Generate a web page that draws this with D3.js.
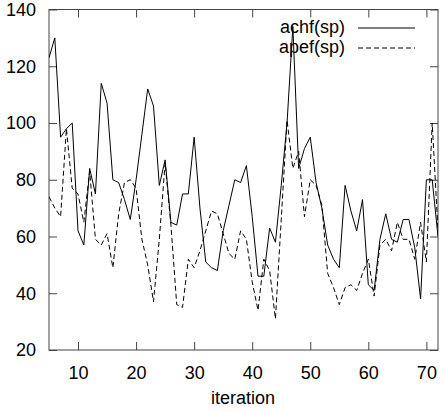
<!DOCTYPE html>
<html>
<head>
<meta charset="utf-8">
<script src="https://cdn.jsdelivr.net/npm/d3@7"></script>
<style>
  body { margin: 0; background: #fff; }
  text { font-family: "Liberation Sans", Arial, sans-serif; }
</style>
</head>
<body>
<svg id="chart"></svg>
<script>
// Data
const iterations = [5, 6, 7, 8, 9, 10, 11, 12, 13, 14, 15, 16, 17, 18, 19, 20,
  21, 22, 23, 24, 25, 26, 27, 28, 29, 30, 31, 32, 33, 34, 35, 36, 37, 38, 39, 40,
  41, 42, 43, 44, 45, 46, 47, 48, 49, 50, 51, 52, 53, 54, 55, 56, 57, 58, 59, 60,
  61, 62, 63, 64, 65, 66, 67, 68, 69, 70, 71, 72];
const achf = [123, 130, 95, 98, 100, 62, 57, 84, 75, 114, 107, 80, 79, 73, 66, 80,
  96, 112, 106, 78, 87, 65, 64, 75, 75, 95, 70, 51, 49, 48, 62, 71, 80, 79, 85, 67,
  46, 46, 63, 58, 78, 100, 134, 84, 91, 95, 79, 70, 57, 52, 49, 78, 69, 62, 73, 43,
  41, 59, 68, 59, 58, 66, 66, 56, 38, 80, 80, 60];
const apef = [74, 70, 67, 98, 77, 75, 65, 83, 59, 57, 61, 49, 68, 79, 80, 77,
  59, 50, 37, 59, 86, 64, 36, 35, 52, 49, 55, 62, 69, 68, 61, 54, 52, 62, 59, 44,
  34, 52, 48, 31, 66, 101, 84, 90, 67, 80, 78, 71, 47, 42, 36, 42, 43, 41, 47, 52,
  39, 57, 59, 55, 65, 59, 59, 52, 65, 51, 100, 62];
const xTicks = [10, 20, 30, 40, 50, 60, 70];
const yTicks = [20, 40, 60, 80, 100, 120, 140];
const seriesNames = ["achf(sp)", "apef(sp)"];

const W = 444, H = 412;
const plotLeft = 49, plotRight = 438, plotTop = 9.5, plotBottom = 350;

const svg = d3.select("#chart").attr("width", W).attr("height", H);

const x = d3.scaleLinear().domain([5, 72]).range([plotLeft, plotRight]);
const y = d3.scaleLinear().domain([20, 140]).range([plotBottom, plotTop]);

const frameColor = "#444";
const fontSize = 18;

// axes: ticks point inward on all four sides
const axB = svg.append("g").attr("transform", `translate(0,${plotBottom})`)
  .call(d3.axisBottom(x).tickValues(xTicks).tickSize(-8).tickPadding(16));
const axT = svg.append("g").attr("transform", `translate(0,${plotTop})`)
  .call(d3.axisTop(x).tickValues(xTicks).tickSize(-8).tickFormat(""));
const axL = svg.append("g").attr("transform", `translate(${plotLeft},0)`)
  .call(d3.axisLeft(y).tickValues(yTicks).tickSize(-8).tickPadding(13));
const axR = svg.append("g").attr("transform", `translate(${plotRight},0)`)
  .call(d3.axisRight(y).tickValues(yTicks).tickSize(-8).tickFormat(""));

[axB, axT, axL, axR].forEach(g => {
  g.select(".domain").remove();
  g.selectAll(".tick line").attr("stroke", frameColor);
  g.selectAll(".tick text").attr("fill", "#000")
    .style("font-size", fontSize + "px");
});

svg.append("rect")
  .attr("x", plotLeft).attr("y", plotTop)
  .attr("width", plotRight - plotLeft).attr("height", plotBottom - plotTop)
  .attr("fill", "none").attr("stroke", frameColor).attr("stroke-width", 1);

// lines, clipped to the frame
svg.append("clipPath").attr("id", "plot-clip")
  .append("rect").attr("x", plotLeft).attr("y", plotTop)
  .attr("width", plotRight - plotLeft).attr("height", plotBottom - plotTop);

const line = d3.line().x(d => x(d[0])).y(d => y(d[1]));

const plot = svg.append("g").attr("clip-path", "url(#plot-clip)");

plot.append("path")
  .datum(iterations.map((it, i) => [it, achf[i]]))
  .attr("d", line)
  .attr("fill", "none").attr("stroke", "#000").attr("stroke-width", 1);

plot.append("path")
  .datum(iterations.map((it, i) => [it, apef[i]]))
  .attr("d", line)
  .attr("fill", "none").attr("stroke", "#000").attr("stroke-width", 1)
  .attr("stroke-dasharray", "5,3");

// legend
const legend = svg.append("g");
seriesNames.forEach((name, i) => {
  const ly = 28 + i * 20;
  legend.append("text")
    .attr("x", 345).attr("y", ly + 5)
    .attr("text-anchor", "end")
    .style("font-size", fontSize + "px")
    .text(name);
  legend.append("line")
    .attr("x1", 358).attr("x2", 415)
    .attr("y1", ly).attr("y2", ly)
    .attr("stroke", "#000").attr("stroke-width", 1)
    .attr("stroke-dasharray", i === 0 ? null : "5,3");
});

// x label
svg.append("text")
  .attr("x", 243).attr("y", 404)
  .attr("text-anchor", "middle")
  .style("font-size", fontSize + "px")
  .text("iteration");
</script>
</body>
</html>
